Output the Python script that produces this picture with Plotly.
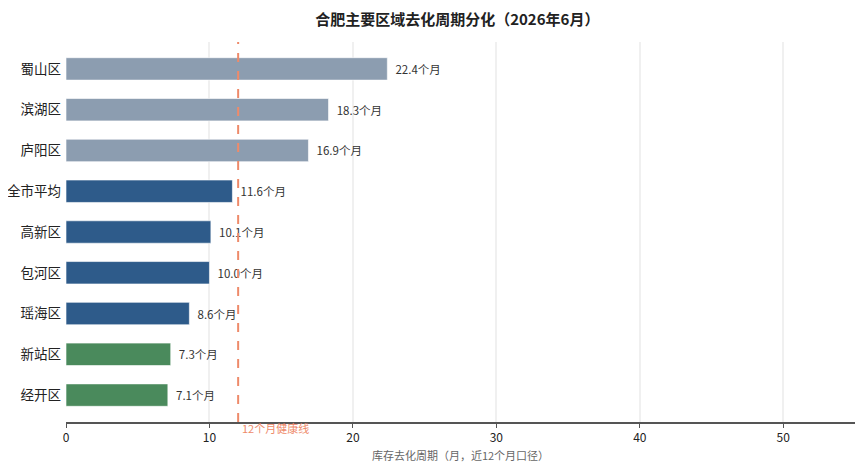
import plotly.graph_objects as go

districts = ["蜀山区", "滨湖区", "庐阳区", "全市平均", "高新区", "包河区", "瑶海区", "新站区", "经开区"]
months = [22.4, 18.3, 16.9, 11.6, 10.1, 10.0, 8.6, 7.3, 7.1]
colors = ["#8C9DB0", "#8C9DB0", "#8C9DB0", "#2E5B8A", "#2E5B8A", "#2E5B8A", "#2E5B8A", "#4A8A5C", "#4A8A5C"]
labels = [f"\u00a0\u00a0{v:.1f}个月" for v in months]
healthy_line = 12
x_ticks = [0, 10, 20, 30, 40, 50]

FONT = "Noto Sans CJK SC"

fig = go.Figure()
fig.add_trace(go.Bar(
    y=districts, x=months, orientation="h",
    marker=dict(color=colors, line=dict(color="rgba(255,255,255,0.6)", width=1)),
    width=0.55,
    text=labels, textposition="outside",
    textfont=dict(size=11.5, color="#333333", family=FONT),
    cliponaxis=False,
    hoverinfo="skip",
))

fig.add_shape(type="line", xref="x", yref="paper", x0=healthy_line, x1=healthy_line, y0=0, y1=1,
              line=dict(color="#EE8A6A", width=2, dash="dash"))
fig.add_annotation(x=healthy_line, xref="x", y=0, yref="paper", text="12个月健康线",
                   showarrow=False, xanchor="left", yanchor="top", xshift=2, yshift=4,
                   font=dict(size=11, color="#EE8A6A", family=FONT))

fig.update_layout(
    width=864, height=472,
    margin=dict(l=58, r=17, t=34, b=58),
    plot_bgcolor="white", paper_bgcolor="white",
    font=dict(family=FONT, color="#333333"),
    title=dict(text="<b>合肥主要区域去化周期分化（2026年6月）</b>", x=0.52, xanchor="center",
               y=0.976, yanchor="middle", font=dict(size=15, color="#222222", family=FONT)),
    showlegend=False,
)
fig.update_xaxes(range=[0, 55], tickvals=x_ticks, showgrid=True, gridcolor="#F0F0F0", gridwidth=1.5,
                 showline=True, linecolor="#555555", linewidth=1.5, ticks="outside", ticklen=4,
                 tickcolor="#555555", zeroline=False,
                 tickfont=dict(size=12, color="#222222"),
                 title=dict(text="库存去化周期（月，近12个月口径）", font=dict(size=11, color="#666666"), standoff=8))
fig.update_yaxes(autorange=False, range=[8.66, -0.66], showgrid=False, showline=False, ticks="",
                 automargin=False,
                 tickfont=dict(size=13.5, color="#222222"), ticklabelstandoff=4)

fig.write_html("out.html")
